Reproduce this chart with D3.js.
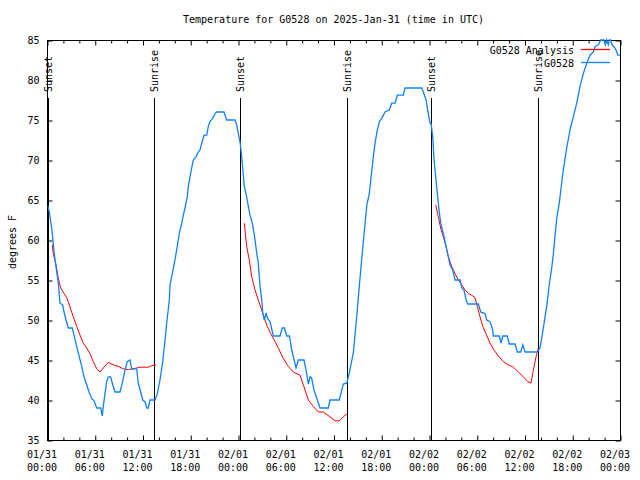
<!DOCTYPE html>
<html>
<head>
<meta charset="utf-8">
<script src="https://cdn.jsdelivr.net/npm/d3@7"></script>
<style>
  html, body { margin: 0; padding: 0; background: #fff; }
  svg { display: block; }
  text { font-family: "DejaVu Sans Mono", "Liberation Mono", monospace; font-size: 10px; fill: #000; }
</style>
</head>
<body>
<svg id="chart" width="640" height="480"></svg>
<script>
// ---------------- DATA ----------------
const chartTitle = "Temperature for G0528 on 2025-Jan-31 (time in UTC)";
const yLabel = "degrees F";
const startTime = Date.UTC(2025, 0, 31, 0, 0);   // 01/31 00:00 UTC
const endTime = Date.UTC(2025, 1, 3, 0, 0);      // 02/03 00:00 UTC
const yTicks = [35, 40, 45, 50, 55, 60, 65, 70, 75, 80, 85];
const xTickHours = [0, 6, 12, 18, 24, 30, 36, 42, 48, 54, 60, 66, 72];
const seriesNames = ["G0528 Analysis", "G0528"];

// Observed station temperature (hours since 01/31 00:00 UTC)
const obsHours = [0.13,0.29,0.59,0.72,0.88,1.13,1.42,1.63,1.97,2.14,2.39,2.68,3.18,3.39,3.73,4.06,4.36,4.65,4.99,5.28,
  5.62,5.91,6.25,6.75,6.95,7.07,7.29,7.50,7.70,8.00,8.26,8.54,9.17,9.51,9.80,10.09,10.43,10.64,11.27,11.47,
  11.77,12.03,12.31,12.53,12.73,12.94,13.57,13.86,14.20,14.54,14.83,15.04,15.37,15.46,16.08,16.37,16.62,16.93,17.13,17.34,
  17.63,17.76,17.97,18.18,18.38,18.72,19.01,19.23,19.44,19.73,20.07,20.27,20.48,20.82,21.11,21.32,22.24,22.58,23.62,23.84,
  24.04,24.25,24.47,24.54,24.79,25.09,25.30,25.51,25.85,26.14,26.35,26.55,26.77,26.98,27.11,27.31,27.52,27.71,28.02,28.44,
  29.28,29.57,29.84,30.12,30.47,30.75,31.29,31.58,32.29,32.55,32.84,33.05,33.24,33.55,33.89,34.31,35.35,35.56,36.73,37.23,
  37.66,37.99,38.49,38.92,39.24,39.58,39.96,40.21,40.50,40.68,40.88,41.00,41.22,41.51,41.76,42.06,42.47,43.01,43.32,43.73,
  44.02,44.77,44.99,47.09,47.29,47.63,47.91,48.13,48.25,48.47,48.63,48.88,49.05,49.26,49.47,49.80,50.14,50.43,50.64,50.98,
  51.27,51.90,52.12,52.40,52.66,52.87,54.20,54.50,55.04,55.25,55.67,56.01,56.08,56.84,57.05,57.26,57.84,58.09,58.81,59.10,
  59.53,59.78,60.07,61.61,61.95,62.29,62.58,62.79,63.12,63.42,63.63,63.84,64.05,64.37,64.84,65.30,65.72,66.13,66.56,66.98,
  67.39,67.82,68.23,68.65,68.86,69.28,69.58,69.99,70.15,70.33,70.53,70.66,70.81,71.00,71.38,71.59,71.72,72.00];
const obsTemps = [64.2,63.5,61.5,60.2,58.5,56.7,54.6,52.1,51.9,51,50,49,49,48.1,46.7,45.4,44.2,42.9,41.9,41,
  40.2,39.9,39,39,38,39.2,40.8,42.3,42.9,42.9,41.9,41,41,42.3,43.75,44.8,45,43.9,43.9,42.1,
  41,40,39.8,39,39,40,40,40.8,42.5,44.8,47.5,49.6,52.5,54.4,57.5,59.2,60.8,62.1,63.1,64,
  65.4,66.7,67.9,69,70,70.4,71,71.25,72.1,73.1,73.1,74.2,74.8,75.2,75.8,76,76,75,75,74.4,
  73.3,72.3,70.4,69.6,66.7,65.4,64.2,63.1,61.9,60,58.4,57.1,54.2,52.5,50.9,50,50.9,50.2,49.8,48,
  48,49,49,48,48,46.25,44,45,45,43.75,42,42.9,42.8,41.25,40.25,39,39,40,40,42,
  42.1,43.4,45.9,50.4,54.2,58,62,64.5,65.8,67.5,69.2,70.4,72.1,73.75,74.8,75.2,76,76.25,77.1,77.1,
  78.1,78.1,79,79,78.5,77.5,75.8,74.6,74.6,72.9,70,67.5,65.8,63.75,62.1,60.8,59.2,57.9,56.9,56.25,
  55,55,54,53.75,52.5,52,52,51,50.8,50,49.8,48.75,48,48,47.1,48,48,47,47,46,
  46,46.9,46,46,46.5,48.5,50.4,51.7,54.5,56.5,58.3,60.6,62.7,64.6,68.5,71.5,73.75,75.4,77.1,79.2,
  80.8,82.1,83.1,83.5,84.2,84.4,85,85,84.4,85,84.4,85,85,84.4,84,83.5,83.1,83.1];

// Analysis temperature (null = gap between nightly segments)
const anaHours = [0.67,0.75,1.13,1.42,1.72,2.14,2.48,2.80,3.23,3.73,4.15,4.56,4.99,5.40,5.82,6.25,6.66,7.07,7.70,8.33,
  8.96,9.59,10.22,11.27,11.69,12.73,13.03,13.70,
  null,
  24.79,25.09,25.42,25.72,26.14,26.55,26.98,27.39,27.68,28.11,28.65,29.19,29.69,30.32,30.95,31.79,32.21,32.84,33.46,34.09,
  34.72,35.56,36.19,36.73,37.23,37.74,
  null,
  48.84,49.17,49.47,49.80,50.14,50.43,50.85,51.27,51.68,52.11,52.53,52.94,53.37,53.78,54.07,54.41,54.75,55.16,55.67,56.17,
  56.71,57.34,57.97,58.60,59.23,59.85,60.41,60.82,61.11,61.45,61.74];
const anaTemps = [59.4,58.5,56.9,55.2,54,53.3,52.8,51.9,50.6,49.2,48.1,47.1,46.5,45.8,44.8,43.9,43.5,44.0,44.7,44.4,
  44.2,43.9,43.8,44,44.1,44.1,44.25,44.4,
  null,
  62.1,59.2,57.5,55.4,53.75,52.5,51.25,50,49.2,48.3,47.3,46.25,45.2,44.2,43.5,43.1,41.9,40,39.2,38.5,
  38.5,37.9,37.4,37.4,37.9,38.3,
  null,
  64.4,62.9,61.5,60.4,59.2,57.9,56.7,55.8,55,54.4,53.75,53.3,53.1,52.8,51.7,50.4,49.2,48.3,47.1,46.25,
  45.5,44.8,44.4,44.1,43.5,42.9,42.3,42.1,43.75,45.4,46.5];

// Sunset / sunrise markers (hours since start)
const eventNames = ["Sunset", "Sunrise", "Sunset", "Sunrise", "Sunset", "Sunrise"];
const eventHours = [0.12, 13.5, 24.3, 37.68, 48.3, 61.74];

// ---------------- DRAW ----------------
(function draw() {
  const HOUR = 3600 * 1000;
  const toDate = h => new Date(startTime + h * HOUR);
  const pL = 47, pR = 620, pT = 40, pB = 440;
  const svg = d3.select("#chart");

  const x = d3.scaleUtc().domain([new Date(startTime), new Date(endTime)]).range([pL, pR]);
  const y = d3.scaleLinear().domain([35, 85]).range([pB, pT]);

  const obs = obsHours.map((h, i) => ({ t: toDate(h), v: obsTemps[i] }));
  const ana = anaHours.map((h, i) => ({ t: h == null ? null : toDate(h), v: anaTemps[i] }));

  svg.append("rect").attr("x", pL + 0.5).attr("y", pT + 0.5)
    .attr("width", pR - pL).attr("height", pB - pT)
    .attr("fill", "none").attr("stroke", "#000").attr("stroke-width", 1);

  const majorX = xTickHours.map(toDate);
  const minorX = d3.range(0, 73, 2).filter(h => h % 6 !== 0).map(toDate);
  const fmtDay = d3.utcFormat("%m/%d"), fmtTime = d3.utcFormat("%H:%M");

  function styleAxis(g) {
    g.select(".domain").remove();
    g.selectAll("line").attr("stroke", "#000").attr("stroke-width", 1);
  }

  const gBottom = svg.append("g").attr("transform", `translate(0.5,${pB + 0.5})`)
    .call(d3.axisBottom(x).tickValues(majorX).tickSize(-5).tickPadding(0).tickFormat(""))
    .call(styleAxis);
  gBottom.selectAll(".tick text").remove();
  gBottom.selectAll(".tick").each(function(d) {
    const t = d3.select(this).append("text")
      .attr("text-anchor", "middle").attr("fill", "#000")
      .style("font-family", "DejaVu Sans Mono, monospace").style("font-size", "10px");
    t.append("tspan").attr("x", -6).attr("y", 17).text(fmtDay(d));
    t.append("tspan").attr("x", -6).attr("y", 30).text(fmtTime(d));
  });
  svg.append("g").attr("transform", `translate(0.5,${pB + 0.5})`)
    .call(d3.axisBottom(x).tickValues(minorX).tickSize(-3).tickFormat(""))
    .call(styleAxis);
  svg.append("g").attr("transform", `translate(0.5,${pT + 0.5})`)
    .call(d3.axisTop(x).tickValues(majorX).tickSize(-5).tickFormat(""))
    .call(styleAxis);
  svg.append("g").attr("transform", `translate(0.5,${pT + 0.5})`)
    .call(d3.axisTop(x).tickValues(minorX).tickSize(-3).tickFormat(""))
    .call(styleAxis);

  const gLeft = svg.append("g").attr("transform", `translate(${pL + 0.5},0.5)`)
    .call(d3.axisLeft(y).tickValues(yTicks).tickSize(-5).tickPadding(8).tickFormat(d3.format("d")))
    .call(styleAxis);
  gLeft.selectAll("text").attr("fill", "#000")
    .style("font-family", "DejaVu Sans Mono, monospace").style("font-size", "10px");
  svg.append("g").attr("transform", `translate(${pR + 0.5},0.5)`)
    .call(d3.axisRight(y).tickValues(yTicks).tickSize(-5).tickFormat(""))
    .call(styleAxis);

  svg.append("text").attr("x", (pL + pR) / 2).attr("y", 19.5)
    .attr("text-anchor", "middle").attr("dominant-baseline", "central").text(chartTitle);
  svg.append("text").attr("transform", "translate(12,242) rotate(-90)")
    .attr("text-anchor", "middle").attr("dominant-baseline", "central").text(yLabel);

  eventHours.forEach((h, i) => {
    const ex = Math.round(x(toDate(h))) + 0.5;
    svg.append("line").attr("x1", ex).attr("x2", ex).attr("y1", 98).attr("y2", pB)
      .attr("stroke", "#000").attr("stroke-width", 1);
    svg.append("text").attr("transform", `translate(${ex},92) rotate(-90)`)
      .attr("text-anchor", "start").attr("dominant-baseline", "central").text(eventNames[i]);
  });

  const lineGen = d3.line().defined(d => d.t != null && d.v != null)
    .x(d => x(d.t)).y(d => y(d.v));
  svg.append("path").datum(ana).attr("d", lineGen)
    .attr("fill", "none").attr("stroke", "#ff0000").attr("stroke-width", 1);
  svg.append("path").datum(obs).attr("d", lineGen)
    .attr("fill", "none").attr("stroke", "#1080ff").attr("stroke-width", 1.3);

  const legendColors = ["#ff0000", "#1080ff"];
  seriesNames.forEach((name, i) => {
    const ly = 50 + i * 13;
    svg.append("text").attr("x", 574).attr("y", ly).attr("text-anchor", "end")
      .attr("dominant-baseline", "central").text(name);
    svg.append("line").attr("x1", 581).attr("x2", 610).attr("y1", ly - 0.5).attr("y2", ly - 0.5)
      .attr("stroke", legendColors[i]).attr("stroke-width", 1.3);
  });
})();
</script>
</body>
</html>
